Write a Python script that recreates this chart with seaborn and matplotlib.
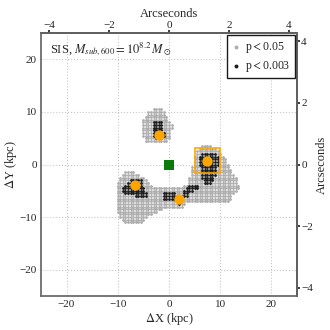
import numpy as np
import pandas as pd
import matplotlib
matplotlib.use("Agg")
import matplotlib.pyplot as plt
import seaborn as sns
from matplotlib.patches import Rectangle

KPC_PER_ARCSEC = 5.86
STEP = 0.5

# significance map, read row by row: (dY, dX from, dX to) in kpc
gray_rows = [
    (10.5, -3.4, -1.2), (10.0, -4.0, -1.0), (9.5, -4.4, -0.8), (9.0, -4.8, -0.5),
    (8.5, -5.0, -0.2), (8.0, -5.1, 0.3), (7.5, -5.1, 0.5), (7.0, -5.1, 0.5),
    (6.5, -5.1, 0.0), (6.0, -5.1, 0.3), (5.5, -5.0, 0.2), (5.0, -4.8, 0.0),
    (4.5, -4.6, -0.4),
    (3.5, 6.4, 8.4), (3.0, 5.8, 9.2), (2.5, 5.5, 9.8), (2.0, 5.2, 10.4),
    (1.5, 5.0, 10.9), (1.0, 4.8, 11.1), (0.5, 4.7, 11.3), (0.0, 4.6, 11.5),
    (-0.5, 4.5, 11.8), (-1.0, 4.4, 12.0),
    (-1.5, 4.4, 12.2), (-1.5, -8.6, -6.8),
    (-2.0, 4.2, 12.6), (-2.0, -9.2, -5.6),
    (-2.5, 4.0, 13.0), (-2.5, -9.6, -4.6),
    (-3.0, 3.8, 13.2), (-3.0, -9.8, -4.2),
    (-3.5, 3.6, 13.4), (-3.5, -10.0, -4.0),
    (-4.0, 3.0, 13.6), (-4.0, -10.2, -3.2),
    (-4.5, -10.3, 13.8), (-5.0, -10.3, 13.4), (-5.5, -10.3, 12.8),
    (-6.0, -10.4, 12.4), (-6.5, -10.4, 12.0), (-7.0, -10.4, 11.5),
    (-7.5, -10.4, 3.0), (-8.0, -10.3, 2.6), (-8.5, -10.3, -1.5),
    (-9.0, -10.0, -2.5), (-9.5, -9.8, -3.5), (-10.0, -9.6, -4.2),
    (-10.5, -9.3, -4.6), (-11.0, -8.8, -5.2),
]

black_rows = [
    # upper image
    (8.0, -3.0, -1.4), (7.5, -3.4, -1.2), (7.0, -3.4, -1.2), (6.5, -3.4, -1.2),
    (6.0, -3.4, -0.9), (5.5, -3.2, -0.8), (5.0, -2.6, -1.4), (4.0, -3.6, -3.6),
    # right image
    (2.0, 6.2, 9.2), (1.5, 5.8, 9.8), (1.0, 5.8, 9.8), (0.5, 5.8, 9.8),
    (0.0, 6.0, 9.8), (-0.5, 6.4, 9.4), (-1.0, 6.4, 9.2), (-1.5, 6.4, 9.2),
    (-2.0, 6.4, 9.0), (-2.5, 6.4, 8.8), (-3.0, 6.6, 8.6), (-3.5, 6.8, 8.2),
    (-4.0, 3.8, 5.6), (-4.5, 3.2, 5.6), (-5.0, 2.8, 4.6),
    (-5.5, -1.0, 1.0), (-5.5, 2.6, 3.8), (-6.0, -1.2, 3.6), (-6.5, -1.4, 1.0),
    (-7.0, 1.4, 2.4), (-7.5, 1.6, 2.2),
    # left image
    (-3.0, -7.6, -5.4), (-3.5, -8.2, -5.2), (-4.0, -8.6, -5.2), (-4.5, -9.0, -5.0),
    (-5.0, -9.0, -4.6), (-5.5, -8.5, -4.4), (-6.0, -6.5, -4.4),
]

image_x = [-2.0, 7.5, -6.55, 1.95]
image_y = [5.6, 0.67, -3.95, -6.6]
lens_x = [0.0]
lens_y = [0.0]
box_x, box_y, box_w, box_h = 5.1, -1.7, 4.9, 4.8


def fill_rows(rows):
    pts = []
    for y, x0, x1 in rows:
        for x in np.arange(np.ceil(x0 / STEP) * STEP, x1 + 1e-6, STEP):
            pts.append((x, y))
    return pd.DataFrame(pts, columns=["dx", "dy"])


sns.set_theme(style="white")
plt.rcParams['font.family'] = ['Liberation Serif', 'DejaVu Serif']
plt.rcParams['mathtext.fontset'] = 'stix'

fig = plt.figure(figsize=(3.3, 3.3), dpi=100)
ax = fig.add_axes([0.124, 0.103, 0.776, 0.797])

gray = fill_rows(gray_rows)
black = fill_rows(black_rows)
sns.scatterplot(data=gray, x="dx", y="dy", color="#acacac", s=4, marker="o",
                linewidth=0, ax=ax, label=r"p$<$0.05", zorder=2)
sns.scatterplot(data=black, x="dx", y="dy", color="k", s=4, marker="o",
                linewidth=0, ax=ax, label=r"p$<$0.003", zorder=3)
ax.scatter(image_x, image_y, s=55, color="#ffa500", zorder=4, linewidth=0)
ax.scatter(lens_x, lens_y, s=42, marker="s", color="#0a7a0a", zorder=4, linewidth=0)
ax.add_patch(Rectangle((box_x, box_y), box_w, box_h, fill=False,
                       edgecolor="#ffa500", lw=1.2, zorder=5))

ax.set_xlim(-25, 25)
ax.set_ylim(-25, 25)
ax.set_xticks([-20, -10, 0, 10, 20])
ax.set_yticks([-20, -10, 0, 10, 20])
ax.grid(True, ls=":", color="#c8c8c8", lw=0.8)
ax.set_xlabel(r"$\Delta$X (kpc)", fontsize=9, labelpad=1)
ax.set_ylabel(r"$\Delta$Y (kpc)", fontsize=9, labelpad=0)
ax.tick_params(labelsize=8, length=2, pad=1)
for sp in ax.spines.values():
    sp.set_color("#666666")

ax.text(-23.3, 21.2, r"SIS, $M_{sub,600}=10^{8.2}\,M_\odot$", fontsize=9)

leg = ax.legend(loc="upper right", fontsize=8.5, frameon=True, fancybox=False,
                edgecolor="k", markerscale=1.4, handletextpad=0.3,
                handlelength=0.8, borderpad=0.4, labelspacing=0.3,
                borderaxespad=0.2)
leg.get_frame().set_linewidth(1.0)
leg.get_frame().set_alpha(1)

conv = (lambda k: k / KPC_PER_ARCSEC, lambda a: a * KPC_PER_ARCSEC)
top = ax.secondary_xaxis("top", functions=conv)
top.set_xticks([-4, -2, 0, 2, 4])
top.set_xlabel("Arcseconds", fontsize=9, labelpad=3)
top.tick_params(labelsize=8, length=2, pad=0)
right = ax.secondary_yaxis("right", functions=conv)
right.set_yticks([-4, -2, 0, 2, 4])
right.set_ylabel("Arcseconds", fontsize=9, labelpad=2)
right.tick_params(labelsize=8, length=2, pad=1)

fig.savefig("out.png", dpi=100)
